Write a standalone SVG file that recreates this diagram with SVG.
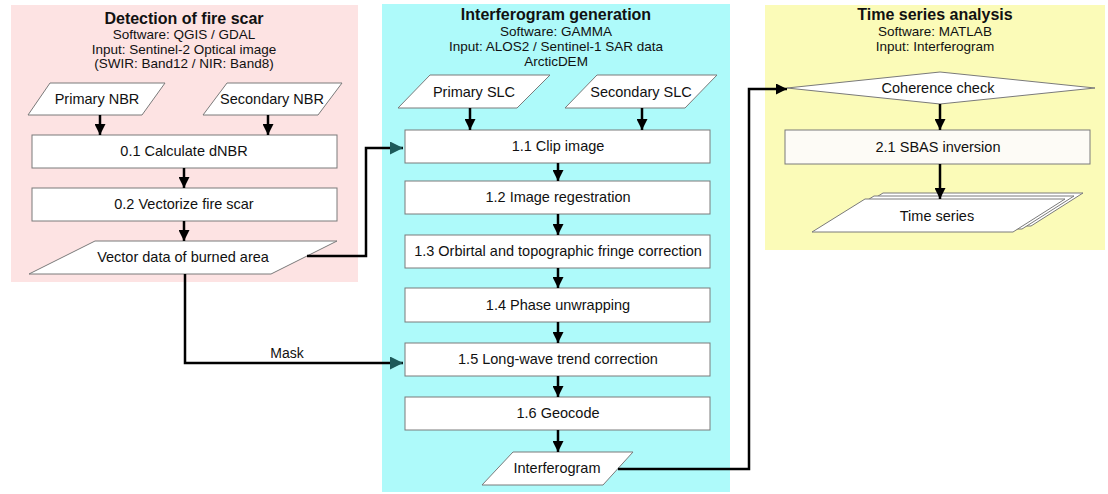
<svg xmlns="http://www.w3.org/2000/svg" width="1108" height="494" viewBox="0 0 1108 494">
<defs>
<style>
text{font-family:"Liberation Sans",Arial,sans-serif;fill:#111;text-anchor:middle}
.t{font-size:16px;font-weight:bold}
.s{font-size:13.5px}
.l{font-size:14.5px}
.m{font-size:14px}
.box{fill:#fff;stroke:#7a7a7a;stroke-width:1}
.c{fill:none;stroke:#000;stroke-width:2.5}
</style>
<marker id="ab" viewBox="0 0 10 10" refX="10" refY="5" markerWidth="11" markerHeight="11" markerUnits="userSpaceOnUse" orient="auto"><path d="M0,0 L10,5 L0,10 z" fill="#000"/></marker>
<marker id="at" viewBox="0 0 10 10" refX="10" refY="5" markerWidth="13" markerHeight="13" markerUnits="userSpaceOnUse" orient="auto"><path d="M0,0 L10,5 L0,10 z" fill="#1d5a5a"/></marker>
</defs>
<g id="panel-fire">
<rect x="11" y="5" width="347" height="277" fill="#fde3e3"/>
<text class="t" x="184" y="24">Detection of fire scar</text>
<text class="s" x="184" y="39">Software: QGIS / GDAL</text>
<text class="s" x="184" y="54">Input: Sentinel-2 Optical image</text>
<text class="s" x="184" y="68">(SWIR: Band12 / NIR: Band8)</text>
</g>
<g id="panel-ifg">
<rect x="382" y="4" width="348" height="488" fill="#aefafa"/>
<text class="t" x="556" y="20">Interferogram generation</text>
<text class="s" x="556" y="36">Software: GAMMA</text>
<text class="s" x="556" y="51">Input: ALOS2 / Sentinel-1 SAR data</text>
<text class="s" x="556" y="66">ArcticDEM</text>
</g>
<g id="panel-ts">
<rect x="765" y="5" width="340" height="245" fill="#fbfbb8"/>
<text class="t" x="935" y="20">Time series analysis</text>
<text class="s" x="935" y="36">Software: MATLAB</text>
<text class="s" x="935" y="51">Input: Interferogram</text>
</g>
<g id="primary-nbr"><polygon class="box" points="50,83 165,83 142,115 28,115"/><text class="l" x="97" y="104">Primary NBR</text></g>
<g id="secondary-nbr"><polygon class="box" points="227,83 342,83 318,115 203,115"/><text class="l" x="272" y="104">Secondary NBR</text></g>
<g id="n01"><rect class="box" x="32" y="135" width="305" height="33"/><text class="l" x="184" y="156">0.1 Calculate dNBR</text></g>
<g id="n02"><rect class="box" x="32" y="188" width="305" height="33"/><text class="l" x="184" y="209">0.2 Vectorize fire scar</text></g>
<g id="vector-data"><polygon class="box" points="95,241 337,241 271,274 29,274"/><text class="l" x="183" y="262">Vector data of burned area</text></g>
<g id="primary-slc"><polygon class="box" points="430,75 550,75 517,108 398,108"/><text class="l" x="474" y="97">Primary SLC</text></g>
<g id="secondary-slc"><polygon class="box" points="597,75 717,75 685,108 565,108"/><text class="l" x="641" y="97">Secondary SLC</text></g>
<g id="n11"><rect class="box" x="405" y="130" width="305" height="33"/><text class="l" x="558" y="151">1.1 Clip image</text></g>
<g id="n12"><rect class="box" x="405" y="181" width="305" height="33"/><text class="l" x="558" y="202">1.2 Image regestration</text></g>
<g id="n13"><rect class="box" x="405" y="235" width="305" height="33"/><text class="l" x="558" y="256">1.3 Orbirtal and topographic fringe correction</text></g>
<g id="n14"><rect class="box" x="405" y="288" width="305" height="34"/><text class="l" x="558" y="310">1.4 Phase unwrapping</text></g>
<g id="n15"><rect class="box" x="405" y="343" width="305" height="33"/><text class="l" x="558" y="364">1.5 Long-wave trend correction</text></g>
<g id="n16"><rect class="box" x="405" y="397" width="305" height="33"/><text class="l" x="558" y="418">1.6 Geocode</text></g>
<g id="interferogram"><polygon class="box" points="513,452 633,452 603,485 482,485"/><text class="l" x="557" y="473">Interferogram</text></g>
<g id="coherence"><polygon class="box" points="787,88 940,72 1095,88 940,104"/><text class="l" x="938" y="93">Coherence check</text></g>
<g id="n21"><rect class="box" x="785" y="130" width="305" height="34" style="fill:#fdfbf6"/><text class="l" x="938" y="152">2.1 SBAS inversion</text></g>
<g id="time-series">
<polygon class="box" points="883,193 1083,193 1031,226 830,226"/>
<polygon class="box" points="874,196 1074,196 1022,229 821,229"/>
<polygon class="box" points="865,199 1065,199 1013,232 812,232"/>
<text class="l" x="937" y="221">Time series</text>
</g>
<g id="connectors">
<path class="c" d="M100,115 V135" marker-end="url(#ab)"/>
<path class="c" d="M268,115 V135" marker-end="url(#ab)"/>
<path class="c" d="M184,168 V188" marker-end="url(#ab)"/>
<path class="c" d="M184,221 V241" marker-end="url(#ab)"/>
<path class="c" d="M307,256 H366 V148 H403" marker-end="url(#at)"/>
<path class="c" d="M185,274 V363 H403" marker-end="url(#at)"/>
<text class="m" x="287" y="358">Mask</text>
<path class="c" d="M470,108 V130" marker-end="url(#ab)"/>
<path class="c" d="M642,108 V130" marker-end="url(#ab)"/>
<path class="c" d="M558,163 V181" marker-end="url(#ab)"/>
<path class="c" d="M558,214 V235" marker-end="url(#ab)"/>
<path class="c" d="M558,268 V288" marker-end="url(#ab)"/>
<path class="c" d="M558,322 V343" marker-end="url(#ab)"/>
<path class="c" d="M558,376 V397" marker-end="url(#ab)"/>
<path class="c" d="M558,430 V452" marker-end="url(#ab)"/>
<path class="c" d="M618,469 H749 V89 H787" marker-end="url(#ab)"/>
<path class="c" d="M940,104 V130" marker-end="url(#ab)"/>
<path class="c" d="M940,164 V199" marker-end="url(#ab)"/>
</g>
</svg>
